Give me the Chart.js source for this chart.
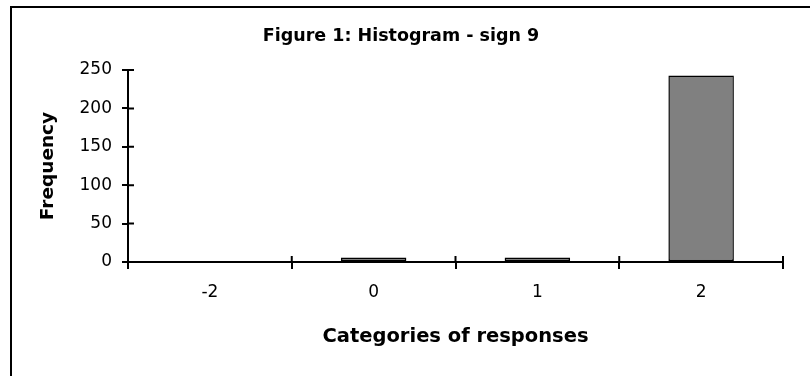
<!DOCTYPE html>
<html>
<head>
<meta charset="utf-8">
<script src="https://cdn.jsdelivr.net/npm/chart.js@4.4.1/dist/chart.umd.min.js"></script>
<style>
  html, body { margin: 0; padding: 0; background: #fff; }
  #wrap { position: relative; width: 810px; height: 376px; }
</style>
</head>
<body>
<div id="wrap"><canvas id="c" width="810" height="376"></canvas></div>
<script>
const categories = ['-2', '0', '1', '2'];
const frequencies = [0, 6, 6, 243];
const yTicks = [0, 50, 100, 150, 200, 250];
const chartTitle = 'Figure 1: Histogram - sign 9';
const xTitle = 'Categories of responses';
const yTitle = 'Frequency';

Chart.defaults.font.family = "'DejaVu Sans', sans-serif";
Chart.defaults.color = '#000';

const frameAndTicks = {
  id: 'frameAndTicks',
  beforeDraw(chart) {
    const ctx = chart.ctx;
    ctx.save();
    ctx.fillStyle = '#fff';
    ctx.fillRect(0, 0, chart.width, chart.height);
    ctx.strokeStyle = '#000';
    ctx.lineWidth = 2;
    ctx.strokeRect(11, 7, chart.width + 20, chart.height + 20);
    ctx.restore();
  },
  afterDraw(chart) {
    const ctx = chart.ctx;
    const xs = chart.scales.x, ys = chart.scales.y;
    const ca = chart.chartArea;
    ctx.save();
    ctx.strokeStyle = '#000';
    ctx.lineWidth = 2;
    ctx.beginPath();
    for (let i = 0; i <= categories.length; i++) {
      const x = xs.getPixelForValue(i - 0.5);
      ctx.moveTo(x, ca.bottom);
      ctx.lineTo(x, ca.bottom - 6);
    }
    yTicks.forEach(v => {
      const y = ys.getPixelForValue(v);
      ctx.moveTo(ca.left, y);
      ctx.lineTo(ca.left + 6, y);
    });
    ctx.stroke();
    ctx.restore();
  }
};

new Chart(document.getElementById('c'), {
  type: 'bar',
  data: {
    labels: categories,
    datasets: [{
      data: frequencies,
      backgroundColor: '#808080',
      borderColor: '#000',
      borderWidth: 1.5,
      borderSkipped: false,
      barPercentage: 0.4,
      categoryPercentage: 1.0
    }]
  },
  options: {
    responsive: false,
    animation: false,
    events: [],
    layout: { padding: { left: 19, right: 27, top: 0, bottom: 0 } },
    plugins: {
      legend: { display: false },
      tooltip: { enabled: false },
      title: {
        display: true,
        text: chartTitle,
        color: '#000',
        font: { size: 17.5, weight: 'bold' },
        padding: { top: 25.5, bottom: 23.5 }
      }
    },
    scales: {
      x: {
        grid: { display: true, drawOnChartArea: false, drawTicks: true, tickLength: 7, color: '#000', lineWidth: 2, offset: true },
        border: { display: true, color: '#000', width: 2 },
        ticks: { color: '#000', font: { size: 17 }, padding: 13, maxRotation: 0 },
        title: { display: true, text: xTitle, color: '#000', font: { size: 19.5, weight: 'bold' }, padding: { top: 0, bottom: 27 } },
        afterFit(s) { s.height = 376 - 262; }
      },
      y: {
        min: 0, max: 250,
        afterBuildTicks(s) { s.ticks = yTicks.map(v => ({ value: v })); },
        grid: { display: true, drawOnChartArea: false, drawTicks: true, tickLength: 6, color: '#000', lineWidth: 2 },
        border: { display: true, color: '#000', width: 2 },
        ticks: { color: '#000', font: { size: 17 }, padding: 10 },
        title: { display: true, text: yTitle, color: '#000', font: { size: 18.5, weight: 'bold' }, padding: { top: 18, bottom: 0 } },
        afterFit(s) { s.width = 109; }
      }
    }
  },
  plugins: [frameAndTicks]
});
</script>
</body>
</html>
